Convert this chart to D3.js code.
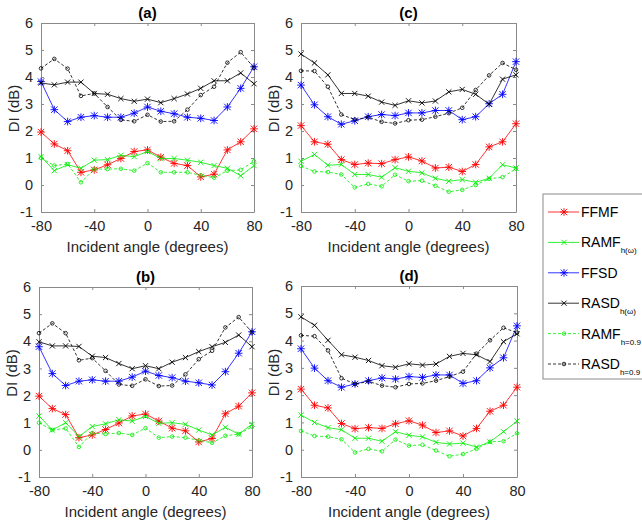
<!DOCTYPE html>
<html>
<head>
<meta charset="utf-8">
<script src="https://cdn.jsdelivr.net/npm/d3@7"></script>
<style>
  body { margin: 0; background: #fff; }
  svg { font-family: "Liberation Sans", Arial, sans-serif; }
</style>
</head>
<body>
<svg width="642" height="525"></svg>
<script>
const svg = d3.select("svg")

// incident angles (degrees)
const angles = [-80, -70, -60, -50, -40, -30, -20, -10, 0, 10, 20, 30, 40, 50, 60, 70, 80]
const xTicks = [-80, -40, 0, 40, 80]
const yTicks = [-1, 0, 1, 2, 3, 4, 5, 6]

// panel (a)
const ffmfA = [1.96, 1.52, 1.27, 0.47, 0.56, 0.75, 0.98, 1.24, 1.30, 1.03, 0.80, 0.72, 0.30, 0.40, 1.30, 1.60, 2.08]
const ramfHwA = [1.05, 0.53, 0.75, 0.62, 0.92, 0.94, 1.10, 1.05, 1.24, 0.98, 0.98, 0.92, 0.84, 0.72, 0.62, 0.34, 0.72]
const ffsdA = [3.83, 2.79, 2.35, 2.51, 2.57, 2.51, 2.51, 2.66, 2.89, 2.73, 2.64, 2.51, 2.47, 2.39, 2.89, 3.58, 4.38]
const rasdHwA = [3.78, 3.71, 3.81, 3.81, 3.39, 3.36, 3.20, 3.10, 3.18, 3.05, 3.20, 3.37, 3.58, 3.86, 3.86, 4.15, 3.75]
const ramf09A = [1.00, 0.72, 0.78, 0.10, 0.59, 0.59, 0.60, 0.53, 0.81, 0.47, 0.47, 0.47, 0.36, 0.27, 0.53, 0.56, 0.88]
const rasd09A = [4.32, 4.67, 4.31, 3.30, 3.39, 2.89, 2.41, 2.36, 2.60, 2.35, 2.36, 2.79, 3.33, 3.64, 4.53, 4.92, 4.34]

// panel (b)
const ffmfB = [1.98, 1.52, 1.30, 0.45, 0.55, 0.75, 0.99, 1.25, 1.32, 1.06, 0.80, 0.70, 0.29, 0.42, 1.33, 1.61, 2.10]
const ramfHwB = [1.25, 0.73, 1.00, 0.49, 0.86, 0.96, 1.11, 1.06, 1.23, 0.98, 1.00, 0.94, 0.73, 0.55, 0.83, 0.58, 0.94]
const ffsdB = [3.80, 2.81, 2.37, 2.53, 2.58, 2.53, 2.53, 2.68, 2.90, 2.74, 2.66, 2.53, 2.47, 2.39, 2.88, 3.56, 4.35]
const rasdHwB = [3.98, 3.83, 3.83, 3.81, 3.45, 3.40, 3.18, 2.99, 3.10, 2.99, 3.23, 3.40, 3.62, 3.80, 3.96, 4.23, 3.80]
const ramf09B = [1.00, 0.73, 0.79, 0.11, 0.62, 0.58, 0.62, 0.55, 0.80, 0.45, 0.49, 0.45, 0.35, 0.26, 0.52, 0.58, 0.85]
const rasd09B = [4.30, 4.66, 4.30, 3.30, 3.38, 2.91, 2.41, 2.36, 2.60, 2.35, 2.37, 2.78, 3.34, 3.65, 4.51, 4.89, 4.33]

// panel (c)
const ffmfC = [2.20, 1.60, 1.51, 0.94, 0.76, 0.81, 0.79, 0.94, 1.04, 0.89, 0.63, 0.66, 0.50, 0.76, 1.41, 1.60, 2.27]
const ramfHwC = [0.88, 1.13, 0.73, 0.76, 0.39, 0.39, 0.29, 0.64, 0.51, 0.45, 0.25, 0.14, 0.20, 0.10, 0.25, 0.75, 0.63]
const ffsdC = [3.70, 2.97, 2.53, 2.25, 2.38, 2.53, 2.61, 2.57, 2.67, 2.67, 2.76, 2.76, 2.42, 2.53, 3.01, 3.36, 4.57]
const rasdHwC = [4.85, 4.52, 4.08, 3.39, 3.39, 3.29, 3.07, 2.95, 3.12, 3.04, 3.11, 3.45, 3.54, 3.36, 2.99, 3.92, 4.08]
const ramf09C = [0.70, 0.50, 0.48, 0.39, -0.09, 0.04, -0.05, 0.38, 0.14, 0.16, -0.03, -0.25, -0.18, 0.00, 0.23, 0.29, 0.60]
const rasd09C = [4.23, 4.22, 3.64, 2.61, 2.42, 2.51, 2.34, 2.28, 2.40, 2.42, 2.53, 2.66, 2.86, 3.52, 4.06, 4.52, 4.27]

// panel (d)
const ffmfD = [2.22, 1.63, 1.53, 0.96, 0.77, 0.81, 0.78, 0.95, 1.06, 0.90, 0.63, 0.69, 0.50, 0.78, 1.41, 1.63, 2.29]
const ramfHwD = [1.27, 1.00, 0.81, 0.73, 0.42, 0.42, 0.31, 0.66, 0.53, 0.47, 0.27, 0.21, 0.24, 0.10, 0.29, 0.66, 1.05]
const ffsdD = [3.70, 2.99, 2.53, 2.29, 2.41, 2.53, 2.63, 2.59, 2.68, 2.65, 2.74, 2.74, 2.43, 2.53, 3.00, 3.37, 4.54]
const rasdHwD = [4.87, 4.56, 4.01, 3.48, 3.39, 3.27, 3.08, 3.02, 3.15, 3.10, 3.14, 3.42, 3.53, 3.48, 3.23, 3.96, 4.25]
const ramf09D = [0.69, 0.50, 0.48, 0.38, -0.10, 0.03, -0.06, 0.37, 0.15, 0.18, -0.03, -0.24, -0.16, 0.03, 0.29, 0.31, 0.60]
const rasd09D = [4.19, 4.16, 3.64, 2.62, 2.41, 2.50, 2.35, 2.29, 2.41, 2.43, 2.53, 2.68, 2.86, 3.52, 4.01, 4.47, 4.29]

// line styles for the six series
const seriesStyle = [
  {name: "FFMF", sub: "", color: "#ff0000", dash: null, marker: "star"},
  {name: "RAMF", sub: "h(\u03c9)", color: "#00ee00", dash: null, marker: "x"},
  {name: "FFSD", sub: "", color: "#0000ff", dash: null, marker: "star"},
  {name: "RASD", sub: "h(\u03c9)", color: "#000000", dash: null, marker: "x"},
  {name: "RAMF", sub: "h=0.9", color: "#00ee00", dash: "3,2", marker: "o"},
  {name: "RASD", sub: "h=0.9", color: "#000000", dash: "3,2", marker: "o"},
]

const panels = [
  {title: "(a)", x0: 41, x1: 254, y0: 23, y1: 212, series: [ffmfA, ramfHwA, ffsdA, rasdHwA, ramf09A, rasd09A]},
  {title: "(b)", x0: 39, x1: 252, y0: 287, y1: 477, series: [ffmfB, ramfHwB, ffsdB, rasdHwB, ramf09B, rasd09B]},
  {title: "(c)", x0: 301, x1: 516, y0: 23, y1: 212, series: [ffmfC, ramfHwC, ffsdC, rasdHwC, ramf09C, rasd09C]},
  {title: "(d)", x0: 301, x1: 517, y0: 286, y1: 477, series: [ffmfD, ramfHwD, ffsdD, rasdHwD, ramf09D, rasd09D]},
]

// draw a marker at (px, py)
function drawMarker(g, type, px, py, color) {
  if (type === "o") {
    g.append("circle").attr("cx", px).attr("cy", py).attr("r", 1.8)
      .attr("fill", "none").attr("stroke", color).attr("stroke-width", 0.8)
    return
  }
  const s = type === "star" ? 3.2 : 2.6
  let d = `M${px - s},${py - s}L${px + s},${py + s}M${px - s},${py + s}L${px + s},${py - s}`
  if (type === "star") {
    d += `M${px - s * 1.2},${py}L${px + s * 1.2},${py}M${px},${py - s * 1.2}L${px},${py + s * 1.2}`
  }
  g.append("path").attr("d", d).attr("stroke", color).attr("stroke-width", 0.9).attr("fill", "none")
}

const fmt = d => String(d)

panels.forEach(p => {
  const x = d3.scaleLinear().domain([-80, 80]).range([p.x0, p.x1])
  const y = d3.scaleLinear().domain([-1, 6]).range([p.y1, p.y0])
  const g = svg.append("g")

  // axes with inner ticks, box on
  const tk = 3
  g.append("g").attr("transform", `translate(0,${p.y1})`)
    .call(d3.axisBottom(x).tickValues(xTicks).tickSizeInner(-tk).tickSizeOuter(0).tickPadding(9).tickFormat(fmt))
  g.append("g").attr("transform", `translate(0,${p.y0})`)
    .call(d3.axisTop(x).tickValues(xTicks).tickSizeInner(-tk).tickSizeOuter(0).tickFormat(""))
  g.append("g").attr("transform", `translate(${p.x0},0)`)
    .call(d3.axisLeft(y).tickValues(yTicks).tickSizeInner(-tk).tickSizeOuter(0).tickPadding(8).tickFormat(fmt))
  g.append("g").attr("transform", `translate(${p.x1},0)`)
    .call(d3.axisRight(y).tickValues(yTicks).tickSizeInner(-tk).tickSizeOuter(0).tickFormat(""))

  g.selectAll(".domain, .tick line").attr("stroke", "#8a8a8a").attr("stroke-width", 1)
  g.selectAll(".tick text").attr("fill", "#262626").attr("font-size", "14.5px")
    .attr("font-family", "Liberation Sans, Arial, sans-serif")

  // series
  const line = d3.line().x((d, i) => x(angles[i])).y(d => y(d))
  p.series.forEach((vals, k) => {
    const st = seriesStyle[k]
    g.append("path").datum(vals).attr("d", line)
      .attr("fill", "none").attr("stroke", st.color).attr("stroke-width", 0.8)
      .attr("stroke-dasharray", st.dash)
    vals.forEach((v, i) => drawMarker(g, st.marker, x(angles[i]), y(v), st.color))
  })

  // titles and labels
  g.append("text").text(p.title)
    .attr("x", (p.x0 + p.x1) / 2).attr("y", p.y0 - 5)
    .attr("text-anchor", "middle").attr("font-weight", "bold").attr("font-size", "15px")
  g.append("text").text("Incident angle (degrees)")
    .attr("x", (p.x0 + p.x1) / 2).attr("y", p.y1 + 40)
    .attr("text-anchor", "middle").attr("font-size", "15px").attr("fill", "#262626")
  g.append("text").text("DI (dB)")
    .attr("transform", `translate(${p.x0 - 22},${(p.y0 + p.y1) / 2 - 9}) rotate(-90)`)
    .attr("text-anchor", "middle").attr("font-size", "15px").attr("fill", "#262626")
})

// legend
const leg = svg.append("g")
leg.append("rect").attr("x", 543).attr("y", 194).attr("width", 110).attr("height", 185)
  .attr("fill", "#fff").attr("stroke", "#8a8a8a").attr("stroke-width", 1)
seriesStyle.forEach((st, i) => {
  const ly = 212 + i * 30.4
  leg.append("line").attr("x1", 548).attr("x2", 579).attr("y1", ly).attr("y2", ly)
    .attr("stroke", st.color).attr("stroke-width", 0.8).attr("stroke-dasharray", st.dash)
  drawMarker(leg, st.marker, 564, ly, st.color)
  const t = leg.append("text").attr("x", 581).attr("y", ly + 5)
    .attr("font-size", "14px").attr("fill", "#000")
  t.append("tspan").text(st.name)
  if (st.sub) {
    t.append("tspan").text(st.sub).attr("font-size", "8px").attr("dy", 6)
  }
})
</script>
</body>
</html>
